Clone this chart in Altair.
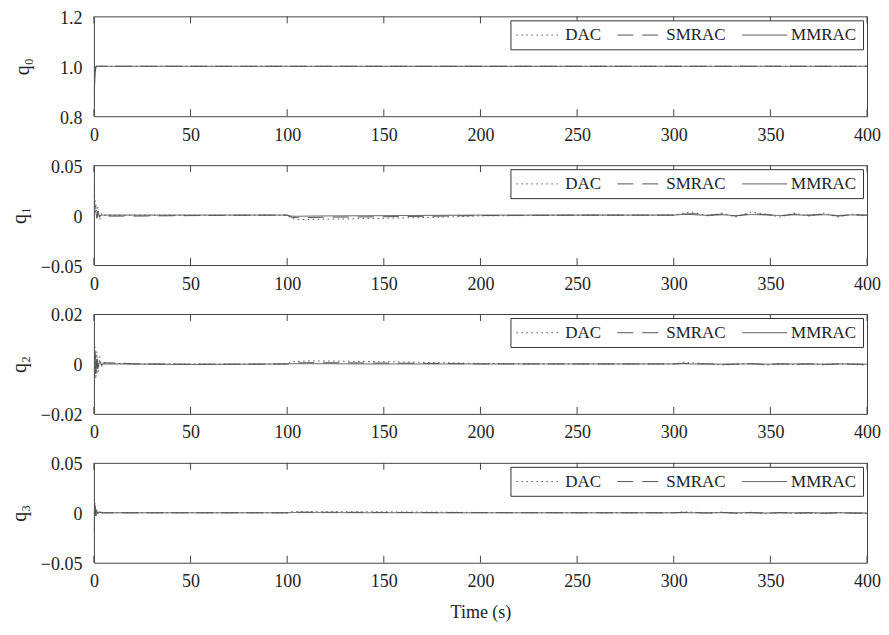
import altair as alt
import pandas as pd

# ---------------- data ----------------
T = [0, 0.5, 1, 1.5, 2, 3, 4, 5, 7, 10, 15, 20, 30, 50, 80, 100, 102, 105, 110, 120,
     140, 160, 180, 200, 250, 300, 305, 310, 318, 325, 332, 340, 348, 355, 362, 370,
     378, 385, 392, 400]

SERIES = ["DAC", "SMRAC", "MMRAC"]

q0_DAC = [0.90, 0.97, 1.0, 1.0, 1.0, 1.0, 1.0, 1.0, 1.0, 1.0, 1.0, 1.0, 1.0, 1.0, 1.0, 1.0, 1.0, 1.0, 1.0, 1.0,
          1.0, 1.0, 1.0, 1.0, 1.0, 1.0, 1.0, 1.0, 1.0, 1.0, 1.0, 1.0, 1.0, 1.0, 1.0, 1.0,
          1.0, 1.0, 1.0, 1.0]
q0_SMRAC = [0.88, 0.96, 1.0, 1.0, 1.0, 1.0, 1.0, 1.0, 1.0, 1.0, 1.0, 1.0, 1.0, 1.0, 1.0, 1.0, 1.0, 1.0, 1.0, 1.0,
            1.0, 1.0, 1.0, 1.0, 1.0, 1.0, 1.0, 1.0, 1.0, 1.0, 1.0, 1.0, 1.0, 1.0, 1.0, 1.0,
            1.0, 1.0, 1.0, 1.0]
q0_MMRAC = [0.86, 0.95, 0.995, 1.0, 1.0, 1.0, 1.0, 1.0, 1.0, 1.0, 1.0, 1.0, 1.0, 1.0, 1.0, 1.0, 1.0, 1.0, 1.0, 1.0,
            1.0, 1.0, 1.0, 1.0, 1.0, 1.0, 1.0, 1.0, 1.0, 1.0, 1.0, 1.0, 1.0, 1.0, 1.0, 1.0,
            1.0, 1.0, 1.0, 1.0]

q1_DAC = [0.030, 0.015, 0.012, -0.004, 0.008, -0.005, 0.002, 0.0, 0.0, 0.0, 0.0, 0.0, 0.0, 0.0, 0.0, 0.0,
          -0.003, -0.0045, -0.0045, -0.004, -0.0035, -0.0028, -0.002, -0.0008, 0.0, 0.0, 0.002, 0.003,
          -0.001, 0.002, -0.002, 0.003, 0.001, -0.002, 0.002, -0.001, 0.002, -0.002, 0.001, -0.001]
q1_SMRAC = [0.022, 0.010, 0.008, -0.003, 0.004, -0.002, 0.001, -0.001, -0.001, -0.001, -0.001, -0.001, -0.0008,
            -0.0005, 0.0, 0.0, -0.002, -0.0025, -0.0025, -0.002, -0.0018, -0.0014, -0.001, -0.0004, 0.0, 0.0,
            0.001, 0.0015, 0.0, 0.001, -0.001, 0.0015, 0.0005, -0.001, 0.001, 0.0, 0.001, -0.001, 0.0005, 0.0]
q1_MMRAC = [0.016, 0.005, 0.003, -0.002, 0.001, -0.0005, 0.0, 0.0, 0.0, 0.0, 0.0, 0.0, 0.0, 0.0, 0.0, 0.0,
            -0.001, -0.0012, -0.001, -0.0008, -0.0006, -0.0004, -0.0002, 0.0, 0.0, 0.0, 0.0007, 0.0005,
            -0.0003, 0.0004, -0.0005, 0.0006, 0.0002, -0.0004, 0.0003, -0.0002, 0.0004, -0.0004, 0.0002, -0.0002]

q2_DAC = [-0.013, 0.007, -0.006, 0.005, -0.004, 0.003, -0.001, 0.0005, 0.0003, 0.0003, 0.0002, 0.0, 0.0, 0.0,
          0.0, 0.0, 0.0008, 0.001, 0.0012, 0.0012, 0.001, 0.0008, 0.0005, 0.0002, 0.0, 0.0, 0.0006, 0.0004,
          0.0001, -0.0004, -0.0002, 0.0002, -0.0005, 0.0001, -0.0003, 0.0, -0.0004, 0.0001, -0.0002, -0.0005]
q2_SMRAC = [-0.008, 0.005, -0.004, 0.003, -0.002, 0.002, -0.0005, 0.0005, 0.0004, 0.0004, 0.0003, 0.0, 0.0,
            -0.0001, -0.0001, 0.0, 0.0003, 0.0004, 0.0005, 0.0005, 0.0004, 0.0003, 0.0002, 0.0, 0.0, 0.0,
            0.0002, 0.0001, 0.0, -0.0002, -0.0001, 0.0001, -0.0002, 0.0, -0.0001, 0.0, -0.0002, 0.0, -0.0001, -0.0002]
q2_MMRAC = [-0.006, 0.004, -0.002, 0.002, -0.001, 0.001, -0.0005, 0.0, 0.0, 0.0, 0.0, 0.0, -0.0001, -0.0002,
            -0.0001, 0.0, 0.0001, 0.0001, 0.0001, 0.0001, 0.0, 0.0, 0.0, 0.0, 0.0, 0.0, 0.0001, 0.0, 0.0,
            -0.0001, 0.0, 0.0, -0.0001, 0.0, 0.0, 0.0, -0.0001, 0.0, 0.0, -0.0001]

q3_DAC = [-0.025, 0.010, -0.004, 0.004, -0.002, 0.002, 0.0005, 0.0, 0.0, 0.0, 0.0, 0.0, 0.0, 0.0, 0.0, 0.0,
          0.001, 0.0012, 0.0012, 0.0011, 0.001, 0.0008, 0.0006, 0.0003, 0.0, 0.0, 0.001, 0.0006, -0.0005,
          0.0008, -0.0008, 0.0005, -0.001, 0.0003, -0.0007, -0.0002, -0.0009, 0.0002, -0.0006, -0.0008]
q3_SMRAC = [-0.020, 0.008, -0.003, 0.003, -0.001, 0.001, 0.0, 0.0, 0.0, 0.0, 0.0, 0.0, 0.0, 0.0, 0.0, 0.0,
            0.0005, 0.0006, 0.0006, 0.0005, 0.0004, 0.0003, 0.0002, 0.0001, 0.0, 0.0, 0.0004, 0.0002, -0.0002,
            0.0003, -0.0003, 0.0002, -0.0004, 0.0001, -0.0003, -0.0001, -0.0004, 0.0, -0.0003, -0.0004]
q3_MMRAC = [-0.018, 0.006, -0.002, 0.002, -0.001, 0.0005, 0.0, 0.0, 0.0, 0.0, 0.0, 0.0, 0.0, 0.0, 0.0, 0.0,
            0.0002, 0.0002, 0.0002, 0.0002, 0.0001, 0.0001, 0.0, 0.0, 0.0, 0.0, 0.0001, 0.0, -0.0001, 0.0001,
            -0.0001, 0.0, -0.0002, 0.0, -0.0001, 0.0, -0.0002, 0.0, -0.0001, -0.0002]

X_TICKS = [0, 50, 100, 150, 200, 250, 300, 350, 400]

PANELS = [
    ("q\u2080", [0.8, 1.2], [0.8, 1.0, 1.2], ".1f", [q0_DAC, q0_SMRAC, q0_MMRAC], 27),
    ("q\u2081", [-0.05, 0.05], [-0.05, 0, 0.05], "~g", [q1_DAC, q1_SMRAC, q1_MMRAC], 11),
    ("q\u2082", [-0.02, 0.02], [-0.02, 0, 0.02], "~g", [q2_DAC, q2_SMRAC, q2_MMRAC], 11),
    ("q\u2083", [-0.05, 0.05], [-0.05, 0, 0.05], "~g", [q3_DAC, q3_SMRAC, q3_MMRAC], 11),
]

FONT = "Liberation Serif"
INK = "#222222"
LINE = "#555555"
W, H = 774, 100
TICK_LEN = 7

tick_df = pd.DataFrame({"t": X_TICKS})

panels = []
for i, (title, dom, yt, fmt, vals, tpad) in enumerate(PANELS):
    rows = []
    for name, v in zip(SERIES, vals):
        for t, y in zip(T, v):
            rows.append({"t": t, "v": y, "series": name})
    df = pd.DataFrame(rows)
    last = i == len(PANELS) - 1
    xscale = alt.Scale(domain=[0, 400], nice=False, zero=False)
    xaxis = alt.Axis(values=X_TICKS, format="d", ticks=False, domain=False, grid=False,
                     labelFlush=False, labelPadding=10, labelFontSize=18, labelFont=FONT,
                     labelColor=INK,
                     title="Time (s)" if last else "", titleFont=FONT, titleFontSize=18,
                     titleFontWeight="normal", titleColor=INK, titlePadding=13)
    lines = alt.Chart(df).mark_line(strokeWidth=1, color=LINE, clip=True).encode(
        x=alt.X("t:Q", scale=xscale, axis=xaxis),
        y=alt.Y("v:Q", scale=alt.Scale(domain=dom, nice=False, zero=False),
                axis=alt.Axis(values=yt, format=fmt, ticks=False, domain=False, grid=False,
                              labelFlush=False, labelPadding=12, labelFontSize=18, labelFont=FONT,
                              labelColor=INK, labelOffset=2,
                              title=title, titleFont=FONT, titleFontSize=20, titleFontWeight="normal",
                              titleColor=INK, titlePadding=tpad)),
        strokeDash=alt.StrokeDash(
            "series:N",
            scale=alt.Scale(domain=SERIES, range=[[1.5, 3.5], [16, 9], [1, 0]]),
            legend=alt.Legend(title=None, orient="top-right", offset=4, direction="horizontal",
                              strokeColor="#333333", fillColor="white", padding=6,
                              labelFont=FONT, labelFontSize=17, labelColor=INK,
                              symbolType="M-3,0H3", symbolSize=225, symbolOffset=14,
                              symbolStrokeColor=LINE, symbolStrokeWidth=1, labelOffset=18,
                              columnPadding=14),
        ),
    )
    bot = alt.Chart(tick_df).mark_rule(color="#444444", strokeWidth=1).encode(
        x=alt.X("t:Q", scale=xscale, axis=xaxis),
        y=alt.value(H), y2=alt.value(H - TICK_LEN))
    top = alt.Chart(tick_df).mark_rule(color="#444444", strokeWidth=1).encode(
        x=alt.X("t:Q", scale=xscale, axis=xaxis),
        y=alt.value(0), y2=alt.value(TICK_LEN))
    panels.append(alt.layer(lines, bot, top).properties(width=W, height=H))

chart = alt.vconcat(*panels, spacing=49, bounds="flush").resolve_scale(
    x="independent", y="independent", strokeDash="independent"
).resolve_legend(strokeDash="independent").properties(
    padding={"left": 0, "top": 0, "right": 0, "bottom": 5}
).configure_view(stroke="#444444", strokeWidth=1)

chart.save("out.html", embed_options={"renderer": "svg", "actions": False})
